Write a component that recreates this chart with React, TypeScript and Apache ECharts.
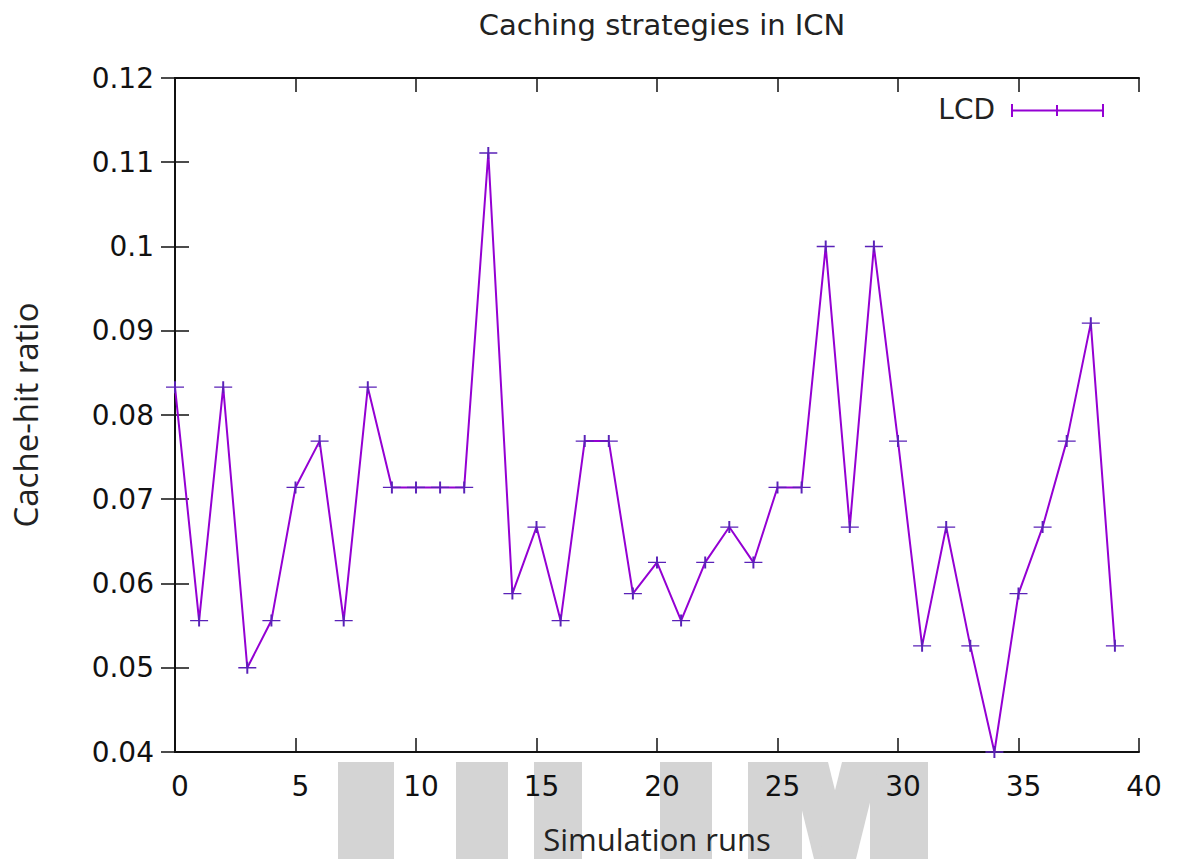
import React, { useEffect, useRef } from "react";
import * as echarts from "echarts";

const titleText = "Caching strategies in ICN";
const xAxisName = "Simulation runs";
const yAxisName = "Cache-hit ratio";
const seriesName = "LCD";

const runs = [
  0, 1, 2, 3, 4, 5, 6, 7, 8, 9, 10, 11, 12, 13, 14, 15, 16, 17, 18, 19,
  20, 21, 22, 23, 24, 25, 26, 27, 28, 29, 30, 31, 32, 33, 34, 35, 36, 37, 38, 39,
];
const lcdHits = [
  0.0833, 0.0556, 0.0833, 0.05, 0.0556, 0.0714, 0.0769, 0.0556, 0.0833, 0.0714,
  0.0714, 0.0714, 0.0714, 0.1111, 0.0588, 0.0667, 0.0556, 0.0769, 0.0769, 0.0588,
  0.0625, 0.0556, 0.0625, 0.0667, 0.0625, 0.0714, 0.0714, 0.1, 0.0667, 0.1,
  0.0769, 0.0526, 0.0667, 0.0526, 0.04, 0.0588, 0.0667, 0.0769, 0.0909, 0.0526,
];

const xMin = 0;
const xMax = 40;
const xStep = 5;
const yMin = 0.04;
const yMax = 0.12;
const yStep = 0.01;

const LINE = "#9400d3";
const MARK = "#5a22b8";
const AXIS = "#111";
const FONT = "DejaVu Sans";
const WM = "#d4d4d4";

export default function App() {
  const ref = useRef<HTMLDivElement>(null);
  useEffect(() => {
    if (!ref.current) return;
    const chart = echarts.init(ref.current, null, { renderer: "svg" });
    const data = runs.map((r, i) => [r, lcdHits[i]]);
    const tickCommon = {
      show: true,
      inside: true,
      length: 14,
      lineStyle: { color: AXIS, width: 1.5 },
    };
    const lineCommon = { show: true, lineStyle: { color: AXIS, width: 2 } };
    const wmRect = (x: number, w: number) => ({
      type: "rect",
      z: -10,
      silent: true,
      shape: { x, y: 762, width: w, height: 100 },
      style: { fill: WM },
    });
    chart.setOption({
      animation: false,
      backgroundColor: "#fff",
      textStyle: { fontFamily: FONT },
      title: {
        text: titleText,
        left: 657,
        textAlign: "center",
        top: 5,
        textStyle: {
          fontFamily: FONT,
          fontSize: 29,
          fontWeight: "normal",
          color: "#222",
        },
      },
      grid: { left: 175, right: 39, top: 78, bottom: 105, containLabel: false },
      xAxis: [
        {
          type: "value",
          min: xMin,
          max: xMax,
          interval: xStep,
          position: "bottom",
          name: xAxisName,
          nameLocation: "middle",
          nameGap: 71,
          nameTextStyle: { fontFamily: "Open Sans", fontSize: 31, color: "#222" },
          axisLine: lineCommon,
          axisTick: tickCommon,
          splitLine: { show: false },
          axisLabel: {
            margin: 20,
            fontSize: 28,
            color: "#111",
            fontFamily: FONT,
            padding: [0, 0, 0, 10],
          },
        },
        {
          type: "value",
          min: xMin,
          max: xMax,
          interval: xStep,
          position: "top",
          axisLine: lineCommon,
          axisTick: tickCommon,
          splitLine: { show: false },
          axisLabel: { show: false },
        },
      ],
      yAxis: [
        {
          type: "value",
          min: yMin,
          max: yMax,
          interval: yStep,
          position: "left",
          name: yAxisName,
          nameLocation: "middle",
          nameGap: 133,
          nameTextStyle: { fontFamily: "Open Sans", fontSize: 33, color: "#222" },
          axisLine: lineCommon,
          axisTick: tickCommon,
          splitLine: { show: false },
          axisLabel: {
            margin: 21,
            fontSize: 28,
            color: "#111",
            fontFamily: FONT,
            formatter: (v: number) => String(+v.toFixed(2)),
          },
        },
        {
          type: "value",
          min: yMin,
          max: yMax,
          interval: yStep,
          position: "right",
          axisLine: lineCommon,
          axisTick: tickCommon,
          splitLine: { show: false },
          axisLabel: { show: false },
        },
      ],
      graphic: [
        wmRect(338, 56),
        wmRect(456, 52),
        wmRect(534, 48),
        wmRect(660, 52),
        wmRect(748, 54),
        wmRect(870, 58),
        {
          type: "polygon",
          z: -10,
          silent: true,
          shape: {
            points: [
              [790, 762],
              [828, 762],
              [852, 859],
              [814, 859],
            ],
          },
          style: { fill: WM },
        },
        {
          type: "polygon",
          z: -10,
          silent: true,
          shape: {
            points: [
              [842, 762],
              [880, 762],
              [856, 859],
              [818, 859],
            ],
          },
          style: { fill: WM },
        },
        {
          type: "text",
          x: 995,
          y: 109,
          style: {
            text: seriesName,
            font: `28px '${FONT}'`,
            fill: "#222",
            align: "right",
            verticalAlign: "middle",
          },
        },
        {
          type: "line",
          shape: { x1: 1012, y1: 110.5, x2: 1103, y2: 110.5 },
          style: { stroke: LINE, lineWidth: 2 },
        },
        {
          type: "line",
          shape: { x1: 1012, y1: 104, x2: 1012, y2: 117 },
          style: { stroke: LINE, lineWidth: 2 },
        },
        {
          type: "line",
          shape: { x1: 1103, y1: 104, x2: 1103, y2: 117 },
          style: { stroke: LINE, lineWidth: 2 },
        },
        {
          type: "line",
          shape: { x1: 1057, y1: 105, x2: 1057, y2: 116 },
          style: { stroke: LINE, lineWidth: 2 },
        },
      ],
      series: [
        {
          name: seriesName,
          type: "line",
          data,
          clip: false,
          symbol: "path://M0,5L16,5M8,0L8,10",
          symbolSize: [18, 12],
          showSymbol: true,
          lineStyle: { color: LINE, width: 2 },
          itemStyle: { color: MARK, borderColor: MARK, borderWidth: 1.6 },
        },
      ],
    });
    return () => chart.dispose();
  }, []);
  return (
    <div
      ref={ref}
      style={{ width: 1178, height: 859, position: "absolute", left: 0, top: 0 }}
    />
  );
}
